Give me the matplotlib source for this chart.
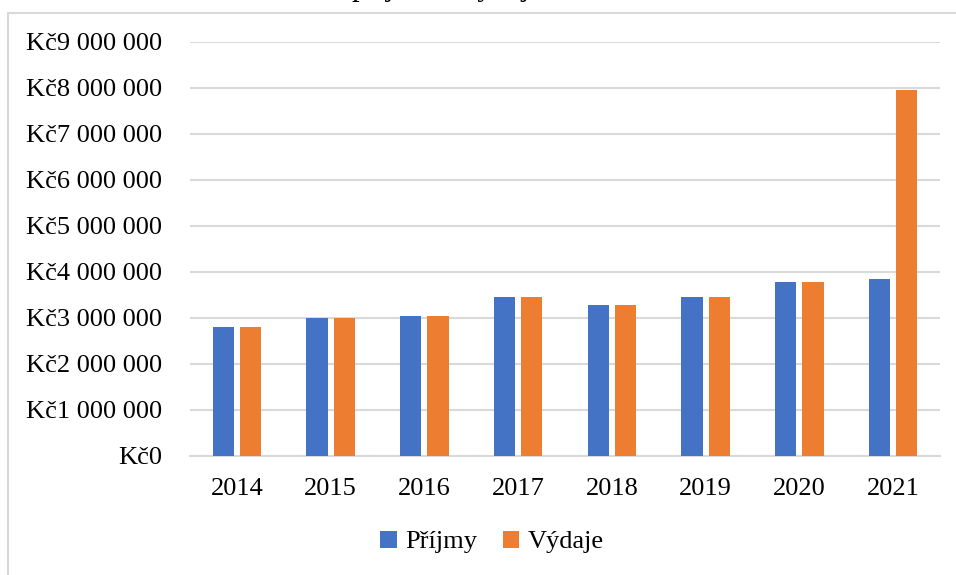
import matplotlib.pyplot as plt
import numpy as np
from matplotlib.ticker import FuncFormatter, MultipleLocator
from matplotlib.lines import Line2D

plt.rcParams['font.family'] = ['Liberation Serif', 'DejaVu Serif']

roky = ['2014', '2015', '2016', '2017', '2018', '2019', '2020', '2021']
prijmy = [2810000, 3010000, 3040000, 3450000, 3280000, 3460000, 3780000, 3840000]
vydaje = [2810000, 3010000, 3040000, 3450000, 3280000, 3460000, 3780000, 7960000]

modra = '#4472C4'
oranzova = '#ED7D31'
seda = '#D9D9D9'


def kc(x, pos):
    # format "Kč9 000 000"
    return 'Kč' + f'{int(x):,}'.replace(',', ' ')


fig = plt.figure(figsize=(9.56, 5.75), dpi=100)
ax = fig.add_axes([190 / 956, 1 - 456 / 575, 750 / 956, 414 / 575])

x = np.arange(len(roky))
sirka = 0.225
posun = 0.145
ax.bar(x - posun, prijmy, width=sirka, color=modra, label='Příjmy', zorder=3)
ax.bar(x + posun, vydaje, width=sirka, color=oranzova, label='Výdaje', zorder=3)

ax.set_xlim(-0.5, len(roky) - 0.5)
ax.set_ylim(0, 9000000)
ax.yaxis.set_major_locator(MultipleLocator(1000000))
ax.yaxis.set_major_formatter(FuncFormatter(kc))
ax.set_xticks(x)
ax.set_xticklabels(roky)
ax.grid(axis='y', color=seda, linewidth=1.5, zorder=0)
ax.tick_params(axis='both', length=0, labelsize=19)
ax.tick_params(axis='y', pad=20)
ax.tick_params(axis='x', pad=16)
for s in ['top', 'right', 'left']:
    ax.spines[s].set_visible(False)
ax.spines['bottom'].set_color(seda)
ax.spines['bottom'].set_linewidth(1.5)

ax.legend(loc='center', bbox_to_anchor=(492 / 956, 1 - 542 / 575),
          bbox_transform=fig.transFigure, ncol=2, frameon=False,
          fontsize=19, handlelength=0.62, handleheight=0.62,
          handletextpad=0.3, columnspacing=1.0)

# oříznutý nadpis a rámeček grafu
fig.text(352 / 956, 1 + 5 / 575, 'příjmů a výdajů', fontsize=22,
         ha='left', va='baseline')
fig.add_artist(Line2D([8 / 956, 8 / 956], [0, 1 - 13 / 575],
                      transform=fig.transFigure, color=seda, linewidth=1.5))
fig.add_artist(Line2D([8 / 956, 1], [1 - 13 / 575, 1 - 13 / 575],
                      transform=fig.transFigure, color=seda, linewidth=1.5))

fig.savefig('out.png', dpi=100)
